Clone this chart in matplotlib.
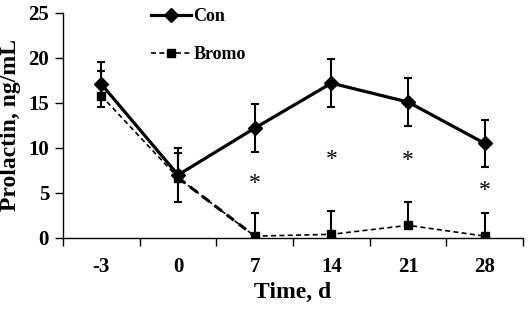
import matplotlib
matplotlib.use('Agg')
import matplotlib.pyplot as plt
import numpy as np

days = ['-3', '0', '7', '14', '21', '28']
con = [17.1, 7.0, 12.2, 17.2, 15.1, 10.5]
con_err = [2.5, 3.0, 2.7, 2.7, 2.7, 2.6]
bromo = [15.8, 6.7, 0.2, 0.4, 1.4, 0.2]
bromo_err = [2.7, 2.7, 2.6, 2.6, 2.6, 2.6]
star_y = [None, None, 6.1, 8.7, 8.6, 5.3]

plt.rcParams['font.family'] = ['Liberation Serif', 'DejaVu Serif']
plt.rcParams['font.weight'] = 'bold'

fig = plt.figure(figsize=(5.29, 3.09), dpi=100)
ax = fig.add_axes([0.119, 0.230, 0.870, 0.728])
x = np.arange(len(days))

ax.errorbar(x, bromo, yerr=[np.zeros(len(x)), bromo_err], fmt='none',
            ecolor='black', elinewidth=1.5, capsize=3, capthick=1.5, zorder=2)
ax.errorbar(x, con, yerr=con_err, fmt='none', ecolor='black',
            elinewidth=1.5, capsize=3, capthick=1.5, zorder=2)

ax.plot(x, bromo, color='black', linestyle='--', dashes=(3, 2), linewidth=1.2,
        marker='s', markersize=6, zorder=3, label='Bromo')
ax.plot(x[1:3], bromo[1:3], color='black', linestyle='--', dashes=(3, 2),
        linewidth=2.2, zorder=3)
ax.plot(x, con, color='black', linewidth=2.3, marker='D', markersize=7,
        zorder=4, label='Con')

for xi, yi in zip(x, star_y):
    if yi is not None:
        ax.text(xi, yi, '*', ha='center', va='center', fontsize=17,
                fontweight='normal')

ax.set_xlim(-0.5, len(days) - 0.5)
ax.set_ylim(0, 25)
ax.set_yticks([0, 5, 10, 15, 20, 25])
ax.set_xticks(x)
ax.set_xticklabels(days)
ax.set_xticks(np.arange(-0.5, len(days), 1.0), minor=True)
ax.tick_params(axis='x', which='major', length=0, pad=14, labelsize=15)
ax.tick_params(axis='x', which='minor', length=6, direction='out', width=1)
ax.tick_params(axis='y', length=6, direction='out', width=1, labelsize=15,
               pad=4)
for s in ['top', 'right']:
    ax.spines[s].set_visible(False)
for s in ['left', 'bottom']:
    ax.spines[s].set_linewidth(1)

ax.set_xlabel('Time, d', fontsize=17, fontweight='bold')
ax.xaxis.set_label_coords(0.5, -0.195)
ax.set_ylabel('Prolactin, ng/mL', fontsize=17, fontweight='bold')
ax.yaxis.set_label_coords(-0.091, 0.5)

handles, labels = ax.get_legend_handles_labels()
fig.legend(handles[::-1], labels[::-1], loc='upper left',
           bbox_to_anchor=(0.265, 1.008), frameon=False, fontsize=13,
           handlelength=2.2, labelspacing=1.15, handletextpad=0.15,
           borderpad=0.1)

fig.savefig('out.png', dpi=100)
